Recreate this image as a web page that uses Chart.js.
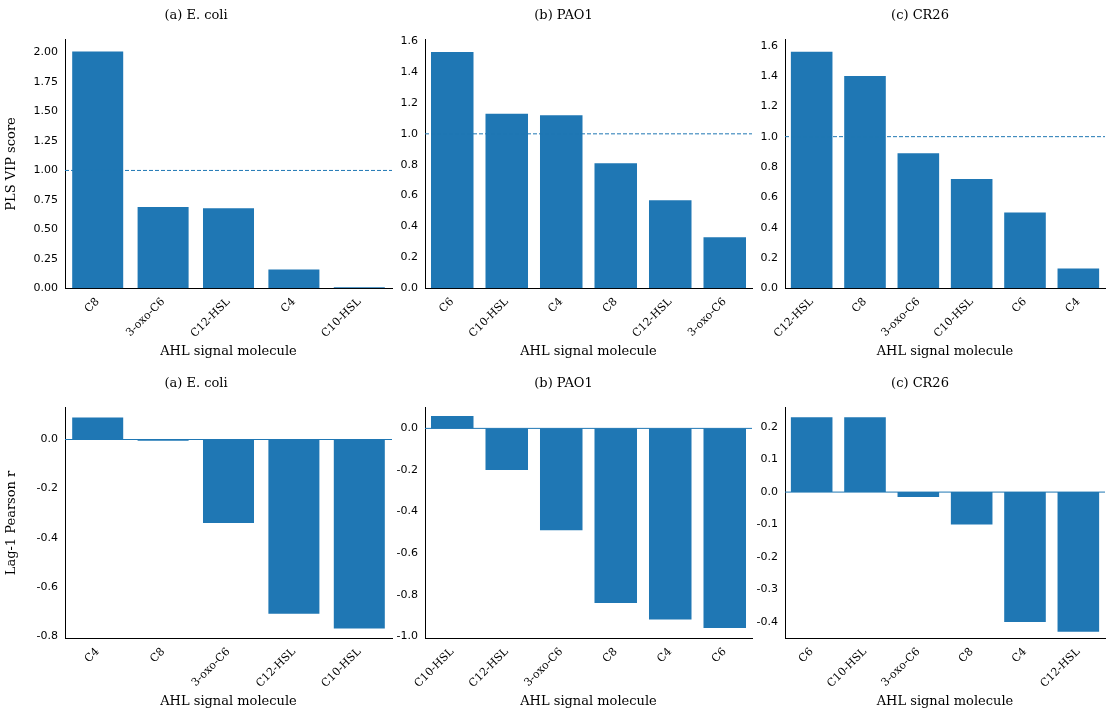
<!DOCTYPE html>
<html><head><meta charset="utf-8">
<script src="https://cdn.jsdelivr.net/npm/chart.js@4"></script>
<style>
body{margin:0;background:#fff;width:1108px;height:713px;position:relative;overflow:hidden}
canvas{position:absolute}
</style></head><body>
<canvas id="c0"></canvas><canvas id="c1"></canvas><canvas id="c2"></canvas>
<canvas id="c3"></canvas><canvas id="c4"></canvas><canvas id="c5"></canvas>
<script>
// top row: PLS VIP scores
const vipEcoliCats = ['C8','3-oxo-C6','C12-HSL','C4','C10-HSL'];
const vipEcoliVals = [2.01,0.69,0.68,0.16,0.01];
const vipPao1Cats = ['C6','C10-HSL','C4','C8','C12-HSL','3-oxo-C6'];
const vipPao1Vals = [1.53,1.13,1.12,0.81,0.57,0.33];
const vipCr26Cats = ['C12-HSL','C8','3-oxo-C6','C10-HSL','C6','C4'];
const vipCr26Vals = [1.56,1.40,0.89,0.72,0.50,0.13];
// bottom row: lag-1 Pearson r
const lagEcoliCats = ['C4','C8','3-oxo-C6','C12-HSL','C10-HSL'];
const lagEcoliVals = [0.09,-0.005,-0.34,-0.71,-0.77];
const lagPao1Cats = ['C10-HSL','C12-HSL','3-oxo-C6','C8','C4','C6'];
const lagPao1Vals = [0.06,-0.20,-0.49,-0.84,-0.92,-0.96];
const lagCr26Cats = ['C6','C10-HSL','3-oxo-C6','C8','C4','C12-HSL'];
const lagCr26Vals = [0.23,0.23,-0.015,-0.10,-0.40,-0.43];
// tick labels
const ticksA = [0,0.25,0.5,0.75,1.0,1.25,1.5,1.75,2.0];
const ticksB = [0,0.2,0.4,0.6,0.8,1.0,1.2,1.4,1.6];
const ticksD = [-0.8,-0.6,-0.4,-0.2,0.0];
const ticksE = [-1.0,-0.8,-0.6,-0.4,-0.2,0.0];
const ticksF = [-0.4,-0.3,-0.2,-0.1,0.0,0.1,0.2];

const blue = '#1f77b4';
const serif = "'DejaVu Serif', serif";
const sans = "'DejaVu Sans', sans-serif";

const refLine = {
  id: 'refLine',
  afterDatasetsDraw(chart, args, opts) {
    const y = chart.scales.y.getPixelForValue(opts.value);
    const ctx = chart.ctx, a = chart.chartArea;
    ctx.save();
    ctx.strokeStyle = blue; ctx.lineWidth = 1;
    ctx.setLineDash(opts.dash ? [4, 2] : []);
    ctx.beginPath(); ctx.moveTo(a.left, y); ctx.lineTo(a.right, y); ctx.stroke();
    ctx.restore();
  }
};

function panel(id, pos, title, cats, vals, yr, ticks, dec, ytitle, line, dash) {
  const cv = document.getElementById(id);
  cv.style.left = pos[0] + 'px'; cv.style.top = pos[1] + 'px';
  cv.style.width = pos[2] + 'px'; cv.style.height = pos[3] + 'px';
  new Chart(cv, {
    type: 'bar',
    data: { labels: cats, datasets: [{ data: vals, backgroundColor: blue,
      categoryPercentage: 0.78, barPercentage: 1.0 }] },
    plugins: [refLine],
    options: {
      responsive: false, animation: false, devicePixelRatio: 1,
      layout: { padding: { right: pos[5], top: 0 } },
      plugins: {
        legend: { display: false }, tooltip: { enabled: false },
        title: { display: true, text: title, color: '#000', font: { family: serif, size: 13, weight: 'normal' }, padding: { top: 8, bottom: 16 } },
        refLine: { value: line, dash: dash }
      },
      scales: {
        x: {
          grid: { display: false, drawTicks: true, tickLength: 4 },
          border: { color: '#000' },
          ticks: { color: '#000', font: { family: serif, size: 11 }, maxRotation: 45, minRotation: 45 },
          title: { display: true, text: 'AHL signal molecule', color: '#000', font: { family: serif, size: 13 }, padding: { top: 0 } }
        },
        y: {
          min: yr[0], max: yr[1],
          afterFit: s => { s.width = pos[4]; },
          afterBuildTicks: s => { s.ticks = ticks.map(v => ({ value: v })); },
          grid: { display: false, drawTicks: true, tickLength: 4 },
          border: { color: '#000' },
          ticks: { color: '#000', font: { family: sans, size: 11 }, callback: v => v.toFixed(dec) },
          title: { display: !!ytitle, text: ytitle || '', color: '#000', font: { family: serif, size: 13 } }
        }
      }
    }
  });
}

panel('c0', [0, 0, 400, 363, 65, 8], '(a) E. coli', vipEcoliCats, vipEcoliVals, [0, 2.11], ticksA, 2, 'PLS VIP score', 1.0, true);
panel('c1', [375, 0, 380, 363, 50, 3], '(b) PAO1', vipPao1Cats, vipPao1Vals, [0, 1.61], ticksB, 1, '', 1.0, true);
panel('c2', [735, 0, 373, 363, 50, 3], '(c) CR26', vipCr26Cats, vipCr26Vals, [0, 1.64], ticksB, 1, '', 1.0, true);
panel('c3', [0, 368, 400, 345, 65, 8], '(a) E. coli', lagEcoliCats, lagEcoliVals, [-0.81, 0.13], ticksD, 1, 'Lag-1 Pearson r', 0, false);
panel('c4', [375, 368, 380, 345, 50, 3], '(b) PAO1', lagPao1Cats, lagPao1Vals, [-1.01, 0.1], ticksE, 1, '', 0, false);
panel('c5', [735, 368, 373, 345, 50, 3], '(c) CR26', lagCr26Cats, lagCr26Vals, [-0.45, 0.26], ticksF, 1, '', 0, false);
</script>
</body></html>
